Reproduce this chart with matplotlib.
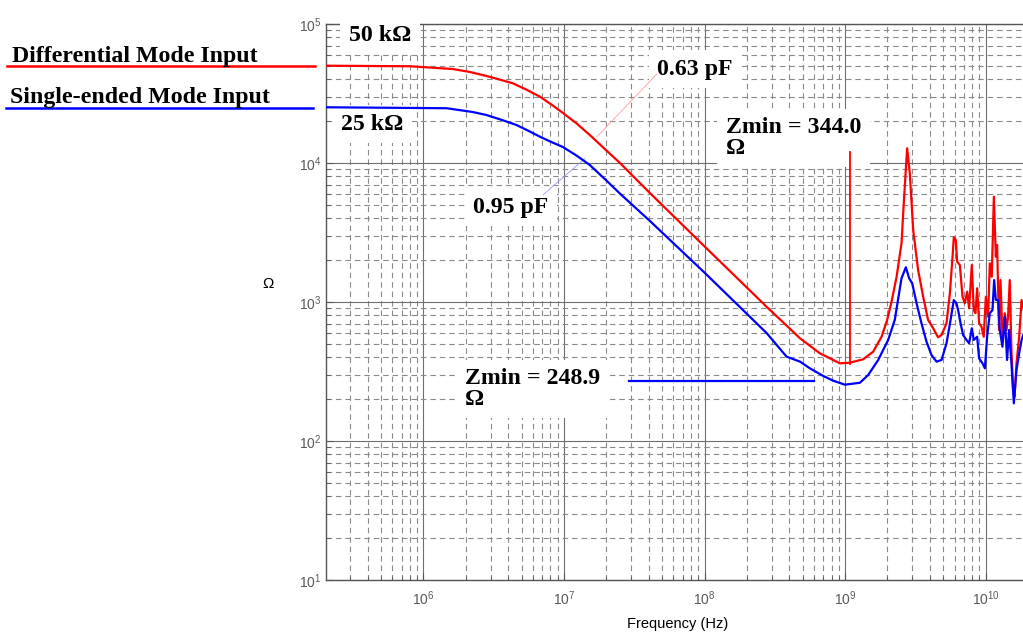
# Input impedance vs frequency: differential and single-ended mode
import matplotlib
matplotlib.use('Agg')
import matplotlib.pyplot as plt
import matplotlib.ticker as mticker
import matplotlib.transforms as mtransforms
import numpy as np

# values (log10 of frequency in Hz, log10 of impedance in ohm)
dm_logf = [5.307, 5.904, 6.210, 6.330, 6.449, 6.540, 6.637, 6.730, 6.829, 6.910,
           6.992, 7.090, 7.184, 7.290, 7.398, 7.611,
           7.953, 8.441, 8.679, 8.820, 8.962, 9.033, 9.128, 9.199, 9.259,
           9.299, 9.330, 9.366, 9.401, 9.417, 9.441, 9.460, 9.484, 9.519, 9.555,
           9.590, 9.626, 9.661, 9.686, 9.721, 9.745, 9.764, 9.773, 9.787, 9.797,
           9.816, 9.835, 9.851, 9.868, 9.882, 9.901, 9.915, 9.927, 9.939, 9.953,
           9.970, 9.986, 10.001, 10.017, 10.029, 10.043, 10.058, 10.072, 10.081, 10.095,
           10.105, 10.119, 10.136, 10.148, 10.159, 10.171, 10.183, 10.195, 10.205, 10.219,
           10.238, 10.255, 10.280]
dm_logz = [4.700, 4.696, 4.676, 4.655, 4.626, 4.601, 4.573, 4.529, 4.477, 4.421,
           4.360, 4.284, 4.201, 4.101, 4.000, 3.784,
           3.446, 2.966, 2.739, 2.631, 2.559, 2.563, 2.588, 2.642, 2.750,
           2.871, 3.002, 3.182, 3.422, 3.710, 4.106, 3.926, 3.518, 3.230, 3.038,
           2.871, 2.811, 2.746, 2.763, 2.847, 3.063, 3.326, 3.465, 3.446, 3.290,
           3.266, 3.038, 2.991, 3.074, 2.955, 3.266, 2.942, 2.919, 3.099, 2.847,
           2.822, 2.750, 3.038, 2.894, 3.278, 3.182, 3.758, 3.326, 3.410, 2.799,
           3.158, 2.750, 2.919, 2.799, 2.894, 3.158, 2.655, 2.367, 2.319, 2.559,
           2.750, 3.014, 2.900]

se_logf = [5.307, 6.165, 6.350, 6.449, 6.560, 6.663, 6.750, 6.829, 6.910, 6.992,
           7.090, 7.184, 7.290, 7.398, 7.611, 8.002,
           8.441, 8.583, 8.679, 8.749, 8.844, 8.915, 8.998, 9.105, 9.164, 9.235,
           9.306, 9.353, 9.401, 9.432, 9.455, 9.477, 9.508, 9.543, 9.579, 9.614,
           9.650, 9.686, 9.721, 9.750, 9.773, 9.792, 9.806, 9.821, 9.839, 9.863,
           9.882, 9.901, 9.915, 9.939, 9.953, 9.977, 9.994, 10.010, 10.029, 10.048,
           10.060, 10.072, 10.088, 10.100, 10.119, 10.136, 10.152, 10.166, 10.183, 10.200,
           10.219, 10.238, 10.255, 10.280]
se_logz = [4.401, 4.394, 4.367, 4.345, 4.309, 4.273, 4.230, 4.189, 4.151, 4.115,
           4.053, 3.985, 3.885, 3.780, 3.583, 3.209,
           2.777, 2.607, 2.571, 2.523, 2.468, 2.434, 2.405, 2.419, 2.475, 2.583,
           2.727, 2.871, 3.171, 3.250, 3.171, 3.135, 2.991, 2.847, 2.714, 2.619,
           2.571, 2.583, 2.703, 2.871, 3.014, 2.991, 2.930, 2.847, 2.763, 2.727,
           2.703, 2.811, 2.727, 2.750, 2.595, 2.559, 2.523, 2.750, 2.919, 2.942,
           3.158, 3.014, 3.014, 2.799, 2.678, 2.894, 2.583, 2.799, 2.559, 2.271,
           2.511, 2.631, 2.727, 2.800]

dm_level = 50e3      # low-frequency plateau, differential
se_level = 25e3      # low-frequency plateau, single-ended
dm_zmin_f = 1.09e9   # marker for Zmin = 344.0
dm_zmin_span = [358, 12000]
se_zmin_z = 270      # marker for Zmin = 248.9
se_zmin_span = [2.9e7, 6.0e8]
cap_dm_line = ([4.58e7, 1.71e7], [4.37e4, 1.54e4])   # 0.63 pF pointer
cap_se_line = ([1.41e7, 7.1e6], [1.08e4, 5.9e3])     # 0.95 pF pointer

RED = '#ff0000'
BLUE = '#0000ff'
GRID = '#8a8a8a'
TXT = dict(family='Liberation Serif', fontweight='bold', fontsize=17.2, color='black')

fig = plt.figure(figsize=(10.23, 6.35), dpi=100)
ax = fig.add_axes([0.3187, 0.0866, 0.688, 0.8756])

ax.set_xscale('log')
ax.set_yscale('log')
ax.set_xlim(10 ** 5.307, 10 ** 10.314)
ax.set_ylim(10, 1e5)

# curves
ax.plot(10 ** np.array(dm_logf), 10 ** np.array(dm_logz), color=RED, lw=1.6, zorder=6)
ax.plot(10 ** np.array(se_logf), 10 ** np.array(se_logz), color=BLUE, lw=1.6, zorder=6)

# Zmin markers
ax.plot([dm_zmin_f, dm_zmin_f], dm_zmin_span, color=RED, lw=1.3, zorder=6)
ax.plot(se_zmin_span, [se_zmin_z, se_zmin_z], color=BLUE, lw=1.6, zorder=6)

# thin pointer lines to capacitance labels
ax.plot(*cap_dm_line, color='#ff9a9a', lw=0.6, zorder=5)
ax.plot(*cap_se_line, color='#9a9aff', lw=0.6, zorder=5)

# annotations with white backgrounds
box = dict(facecolor='white', edgecolor='none', pad=6)
ax.text(10 ** 5.691, 10 ** 4.92, '50 kΩ', ha='center', va='center', bbox=box, zorder=4, **TXT)
ax.text(10 ** 5.634, 10 ** 4.28, '25 kΩ', ha='center', va='center', bbox=box, zorder=4, **TXT)
ax.text(10 ** 7.661, 10 ** 4.676, '0.63 pF', ha='left', va='center', bbox=box, zorder=4, **TXT)
ax.text(10 ** 6.352, 10 ** 3.683, '0.95 pF', ha='left', va='center', bbox=box, zorder=4, **TXT)
ax.text(10 ** 8.151, 10 ** 4.33, 'Zmin = 344.0\nΩ', ha='left', va='top', linespacing=1.0,
        bbox=box, zorder=4, **TXT)
ax.text(10 ** 6.295, 10 ** 2.525, 'Zmin = 248.9\nΩ', ha='left', va='top', linespacing=1.0,
        bbox=box, zorder=4, **TXT)

# legend-like labels on the left, lines drawn at the plateau levels
trans = mtransforms.blended_transform_factory(ax.transAxes, ax.transData)
ax.plot([-0.453, -0.016], [dm_level, dm_level], color=RED, lw=1.8, transform=trans, clip_on=False)
ax.plot([-0.455, -0.019], [se_level, se_level], color=BLUE, lw=1.8, transform=trans, clip_on=False)
fig.text(12 / 1023, 0.9017, 'Differential Mode Input', va='baseline', **TXT)
fig.text(10 / 1023, 0.8378, 'Single-ended Mode Input', va='baseline', **TXT)

# grid and axes styling
ax.xaxis.set_major_locator(mticker.LogLocator(base=10, numticks=20))
ax.xaxis.set_minor_locator(mticker.LogLocator(base=10, subs=np.arange(2, 10), numticks=20))
ax.yaxis.set_minor_locator(mticker.LogLocator(base=10, subs=np.arange(2, 10), numticks=20))
ax.xaxis.set_minor_formatter(mticker.NullFormatter())
ax.yaxis.set_minor_formatter(mticker.NullFormatter())
ax.grid(which='major', color='#6e6e6e', lw=0.8, ls='-')
ax.grid(which='minor', color=GRID, lw=0.8, ls=(0, (5, 3.5)))

for side in ['left', 'bottom', 'top']:
    ax.spines[side].set_color('#555555')
    ax.spines[side].set_linewidth(1.0)
ax.spines['right'].set_visible(False)

ax.tick_params(which='both', direction='in', color='#555555', top=False, right=False)
ax.tick_params(which='major', length=5)
ax.tick_params(which='minor', length=3)
ax.tick_params(axis='x', which='major', pad=7, labelsize=10, labelcolor='#5a5a5a')
ax.tick_params(axis='y', which='major', pad=3, labelsize=10, labelcolor='#5a5a5a')
for lab in ax.get_xticklabels() + ax.get_yticklabels():
    lab.set_family('Liberation Sans')

ax.set_xlabel('Frequency (Hz)', family='Liberation Sans', fontsize=10.5, labelpad=6)
ax.set_ylabel('Ω', family='Liberation Sans', fontsize=11, rotation=0)
ax.yaxis.set_label_coords(-0.083, 0.52)

fig.savefig('out.png', dpi=100)
